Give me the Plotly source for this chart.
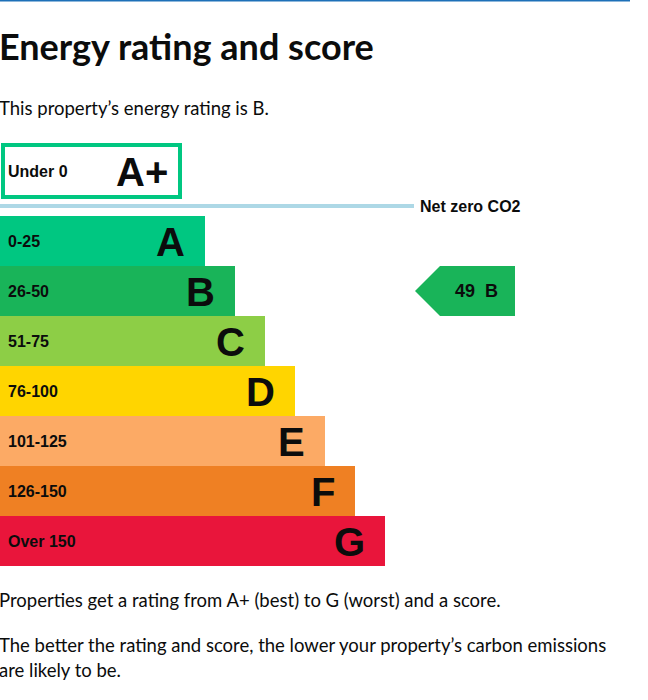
import plotly.graph_objects as go

# EPC bands, best to worst
bands = ['A', 'B', 'C', 'D', 'E', 'F', 'G']
score_ranges = ['0-25', '26-50', '51-75', '76-100', '101-125', '126-150', 'Over 150']
band_length = [205, 235, 265, 295, 325, 355, 385]
band_colours = ['#00c781', '#19b459', '#8dce46', '#ffd500', '#fcaa65', '#ef8023', '#e9153b']

top_band = 'A+'
top_range = 'Under 0'
top_colour = '#00c781'

current_score = 49
current_band = 'B'

body = "Lato, 'Liberation Sans Narrow', Arial, sans-serif"
label_font = "'Liberation Sans', Arial, sans-serif"

row_h = 50
first_row = 241
row_y = [first_row + i * row_h for i in range(len(bands))]

fig = go.Figure()

fig.add_trace(go.Bar(
    x=band_length, y=row_y, base=0, orientation='h', width=row_h,
    marker=dict(color=band_colours, line=dict(width=0)),
    hoverinfo='skip', showlegend=False))

# range labels and big letters
for i, b in enumerate(bands):
    fig.add_annotation(x=6, y=row_y[i], text='<b>%s</b>' % score_ranges[i],
                       xanchor='left', yanchor='middle', showarrow=False,
                       font=dict(family=label_font, size=16, color='#0b0c0c'))
    fig.add_annotation(x=band_length[i] - 18, y=row_y[i] + 1, text='<b>%s</b>' % b,
                       xanchor='right', yanchor='middle', showarrow=False,
                       font=dict(family=label_font, size=40, color='#0b0c0c'))

# A+ box
fig.add_shape(type='rect', x0=3, x1=180, y0=145, y1=197,
              line=dict(color=top_colour, width=4), fillcolor='white')
fig.add_annotation(x=6, y=171, text='<b>%s</b>' % top_range, xanchor='left',
                   yanchor='middle', showarrow=False,
                   font=dict(family=label_font, size=16, color='#0b0c0c'))
fig.add_annotation(x=170, y=172, text='<b>%s</b>' % top_band, xanchor='right',
                   yanchor='middle', showarrow=False,
                   font=dict(family=label_font, size=40, color='#0b0c0c'))

# net zero line
fig.add_shape(type='line', x0=0, x1=414, y0=206, y1=206,
              line=dict(color='#add8e6', width=4))
fig.add_annotation(x=418, y=206, text='<b>Net zero CO2</b>', xanchor='left',
                   yanchor='middle', showarrow=False,
                   font=dict(family=label_font, size=16, color='#0b0c0c'))

# current rating arrow
k = bands.index(current_band)
cy = row_y[k]
tip, shoulder, end = 415, 440, 515
fig.add_trace(go.Scatter(
    x=[tip, shoulder, end, end, shoulder, tip],
    y=[cy, cy - row_h / 2, cy - row_h / 2, cy + row_h / 2, cy + row_h / 2, cy],
    mode='lines', fill='toself', fillcolor=band_colours[k],
    line=dict(width=0, color=band_colours[k]), hoverinfo='skip', showlegend=False))
fig.add_annotation(x=476, y=cy, text='<b>%d\u00a0\u00a0%s</b>' % (current_score, current_band),
                   xanchor='center', yanchor='middle', showarrow=False,
                   font=dict(family=label_font, size=18, color='#0b0c0c'))

# page text
fig.add_shape(type='line', x0=0, x1=630, y0=0.5, y1=0.5,
              line=dict(color='#1d70b8', width=2))
page_text = [
    (46, '<b>Energy rating and score</b>', 36),
    (107.5, "This property\u2019s energy rating is B.", 18.5),
    (599.5, 'Properties get a rating from A+ (best) to G (worst) and a score.', 18.5),
    (644.5, "The better the rating and score, the lower your property\u2019s carbon emissions", 18.5),
    (669.5, 'are likely to be.', 18.5),
]
for y, txt, size in page_text:
    fig.add_annotation(x=0, y=y, xshift=-3, text=txt, xanchor='left',
                       yanchor='middle', showarrow=False,
                       font=dict(family=body, size=size, color='#0b0c0c'))

fig.update_xaxes(range=[0, 648], visible=False, fixedrange=True)
fig.update_yaxes(range=[700, 0], visible=False, fixedrange=True)
fig.update_layout(width=648, height=700, margin=dict(l=0, r=0, t=0, b=0),
                  plot_bgcolor='white', paper_bgcolor='white', bargap=0)

fig.write_html('out.html', config={'displayModeBar': False},
               post_script="document.body.style.margin='0';document.body.style.overflow='hidden';")
